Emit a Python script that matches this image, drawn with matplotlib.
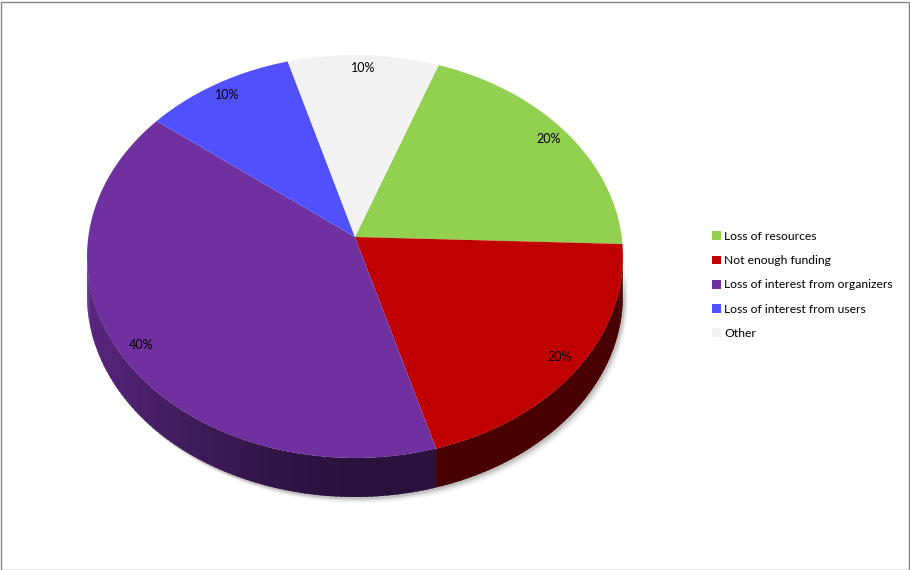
import numpy as np
import matplotlib as mpl
import matplotlib.pyplot as plt
from matplotlib.patches import Rectangle, Polygon

# data
labels = ['Loss of resources', 'Not enough funding', 'Loss of interest from organizers',
          'Loss of interest from users', 'Other']
values = [20, 20, 40, 10, 10]
colors = ['#92D050', '#C00000', '#7030A0', '#5050FF', '#F2F2F2']

W, H = 910, 570
# perspective of the tilted pie (pixels): apex, stretch, depth
px0, py0 = 355, 237
A, C, k = 199.6, 266.7, 0.0968
depth = 39


def proj(u, v):
    s = 1 + k * np.asarray(v)
    return px0 + C * np.asarray(u) / s, py0 - A * np.asarray(v) / s


def shade(c, u):
    f = 0.38 + 0.44 * max(0.0, -u) ** 1.5
    r, g, b = mpl.colors.to_rgb(c)
    return (r * f, g * f, b * f)


mpl.rcParams.update({'font.family': ['Lato', 'DejaVu Sans'], 'font.size': 9})
fig = plt.figure(figsize=(W / 100, H / 100), dpi=100)
ax = fig.add_axes([0, 0, 1, 1])

wedges, texts, autotexts = ax.pie(values, colors=colors, startangle=70, counterclock=False,
                                  autopct='%d%%', pctdistance=0.92,
                                  wedgeprops=dict(linewidth=0), textprops=dict(fontsize=9, color='#000000'))
ax.set_aspect('auto')
ax.set_xlim(0, W)
ax.set_ylim(H, 0)
ax.axis('off')

# shadow under the side wall
vis = np.radians(np.linspace(180 + np.degrees(np.arcsin(k)), 360 - np.degrees(np.arcsin(k)), 300))
tx, ty = proj(np.cos(vis), np.sin(vis))
for dx, dy, al in [(5, 6, 0.05), (3.5, 4, 0.08), (2, 2.5, 0.12)]:
    pts = list(zip(tx + dx, ty + dy)) + list(zip(tx[::-1] + dx, ty[::-1] + depth + dy))
    ax.add_patch(Polygon(pts, closed=True, facecolor=(0, 0, 0, al), edgecolor='none', zorder=0.2))

handles = []
for w, c in zip(wedges, colors):
    t1, t2 = w.theta1, w.theta2
    w.remove()
    ts = np.radians(np.linspace(t1, t2, 200))
    ox, oy = proj(np.cos(ts), np.sin(ts))
    pts = [(px0, py0)] + list(zip(ox, oy))
    poly = Polygon(pts, closed=True, facecolor=c, edgecolor='none', zorder=2)
    ax.add_patch(poly)
    handles.append(poly)

    # side wall, only the part that faces the viewer
    step = 1.0
    a = t1
    while a < t2:
        b = min(a + step, t2)
        tm = np.radians((a + b) / 2)
        if np.sin(tm) < -k:
            bb = min(b + 0.6, t2)
            ss = np.radians(np.linspace(a, bb, 4))
            ss = ss[np.sin(ss) < -k + 0.02] if (np.sin(ss) < -k + 0.02).sum() > 1 else ss
            wx, wy = proj(np.cos(ss), np.sin(ss))
            q = list(zip(wx, wy)) + list(zip(wx[::-1], wy[::-1] + depth))
            col = shade(c, np.cos(tm))
            ax.add_patch(Polygon(q, closed=True, facecolor=col, edgecolor='none', zorder=1))
        a = b

for t in autotexts:
    u, v = t.get_position()
    x, y = proj(u, v)
    t.set_position((float(x), float(y)))
    t.set_zorder(3)

leg = fig.legend(handles, labels, loc='upper left', bbox_to_anchor=(707 / W, 1 - 226 / H),
                 frameon=False, fontsize=8.7, handlelength=0.72, handleheight=0.72,
                 handletextpad=0.3, labelspacing=1.1, borderaxespad=0)

fig.add_artist(Rectangle((0.5 / W, 0.5 / H), (W - 2) / W, (H - 2) / H, transform=fig.transFigure,
                         fill=False, edgecolor='#868686', linewidth=1))

fig.savefig('out.png', dpi=100)
